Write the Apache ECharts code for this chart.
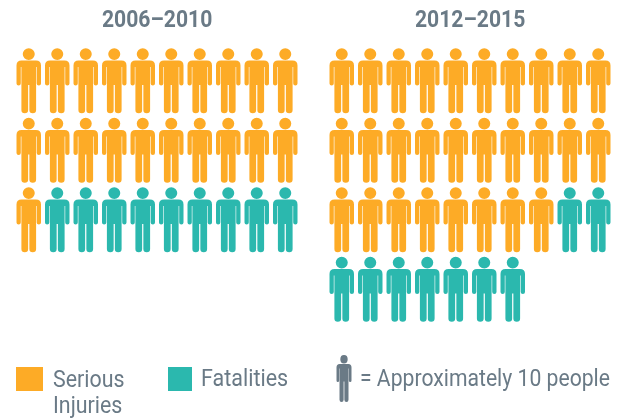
<!DOCTYPE html>
<html><head><meta charset="utf-8">
<style>html,body{margin:0;padding:0;background:#fff}#c{width:626px;height:419px}</style>
<script src="https://cdn.jsdelivr.net/npm/echarts@6/dist/echarts.min.js"></script></head>
<body><div id="c"></div>
<script>
const periods = ['2006–2010', '2012–2015'];
const seriousInjuries = [210, 280];
const fatalities = [90, 90];
const peoplePerIcon = 10;
const iconsPerRow = 10;
const rows = 4;
const keyText = '= Approximately 10 people';

const person = 'path://M12 0A5.9 5.9 0 0 1 12 11.8A5.9 5.9 0 0 1 12 0ZM5 12.4H19Q24 12.4 24 17.4V35.6A2.1 2.1 0 0 1 19.8 35.6V19H19.2V62.3A3.1 3.1 0 0 1 12.6 62.3V37H11.4V62.3A3.1 3.1 0 0 1 4.8 62.3V19H4.2V35.6A2.1 2.1 0 0 1 0 35.6V17.4Q0 12.4 5 12.4Z';
const ORANGE = '#FDAB26', TEAL = '#2BB8AE', GRAY = '#6A7A86';
const FONT = 'Roboto,sans-serif';

function cells(start, count) {
  const out = [];
  for (let i = start; i < start + count; i++) {
    out.push([i % iconsPerRow + 0.5, Math.floor(i / iconsPerRow) + 0.5]);
  }
  return out;
}
const grids = [
  {left: 14.5, top: 46, width: 285, height: 278},
  {left: 327.5, top: 46, width: 285, height: 278},
  {left: 336, top: 355, width: 16, height: 47}
];
const series = [];
periods.forEach((p, k) => {
  const a = seriousInjuries[k] / peoplePerIcon, b = fatalities[k] / peoplePerIcon;
  const base = {type: 'scatter', xAxisIndex: k, yAxisIndex: k, symbol: person, symbolSize: [24.5, 65], silent: true};
  series.push(Object.assign({}, base, {name: 'Serious Injuries', data: cells(0, a), itemStyle: {color: ORANGE, opacity: 1}}));
  series.push(Object.assign({}, base, {name: 'Fatalities', data: cells(a, b), itemStyle: {color: TEAL, opacity: 1}}));
});
series.push({type: 'scatter', name: 'Key', xAxisIndex: 2, yAxisIndex: 2, symbol: person, symbolSize: [15, 47], silent: true,
  data: [[0.5, 0.5]], itemStyle: {color: GRAY, opacity: 1}});

function label(text, x, y, size, bold, sx) {
  return {type: 'text', x, y, scaleX: sx, silent: true,
    style: {text, fontFamily: FONT, fontSize: size, fontWeight: bold ? 'bold' : 'normal', fill: GRAY, lineHeight: 25}};
}
const chart = echarts.init(document.getElementById('c'), null, {renderer: 'canvas'});
chart.setOption({
  animation: false,
  backgroundColor: '#fff',
  grid: grids,
  xAxis: grids.map((g, i) => ({gridIndex: i, type: 'value', min: 0, max: i < 2 ? iconsPerRow : 1, show: false})),
  yAxis: grids.map((g, i) => ({gridIndex: i, type: 'value', min: 0, max: i < 2 ? rows : 1, inverse: true, show: false})),
  legend: [
    {data: [{name: 'Serious Injuries', icon: 'rect'}], left: 16, top: 367, padding: 0, itemWidth: 27, itemHeight: 24, itemGap: 0, selectedMode: false, formatter: () => ''},
    {data: [{name: 'Fatalities', icon: 'rect'}], left: 168, top: 367, padding: 0, itemWidth: 24, itemHeight: 24, itemGap: 0, selectedMode: false, formatter: () => ''}
  ],
  graphic: [
    label(periods[0], 102, 8, 24, true, 0.88),
    label(periods[1], 415, 8, 24, true, 0.88),
    label('Serious', 53, 369, 23, false, 0.93),
    label('Injuries', 53, 395, 23, false, 0.93),
    label('Fatalities', 201, 368, 23, false, 0.935),
    label(keyText, 360, 368, 23, false, 0.92)
  ],
  series
});
</script></body></html>
